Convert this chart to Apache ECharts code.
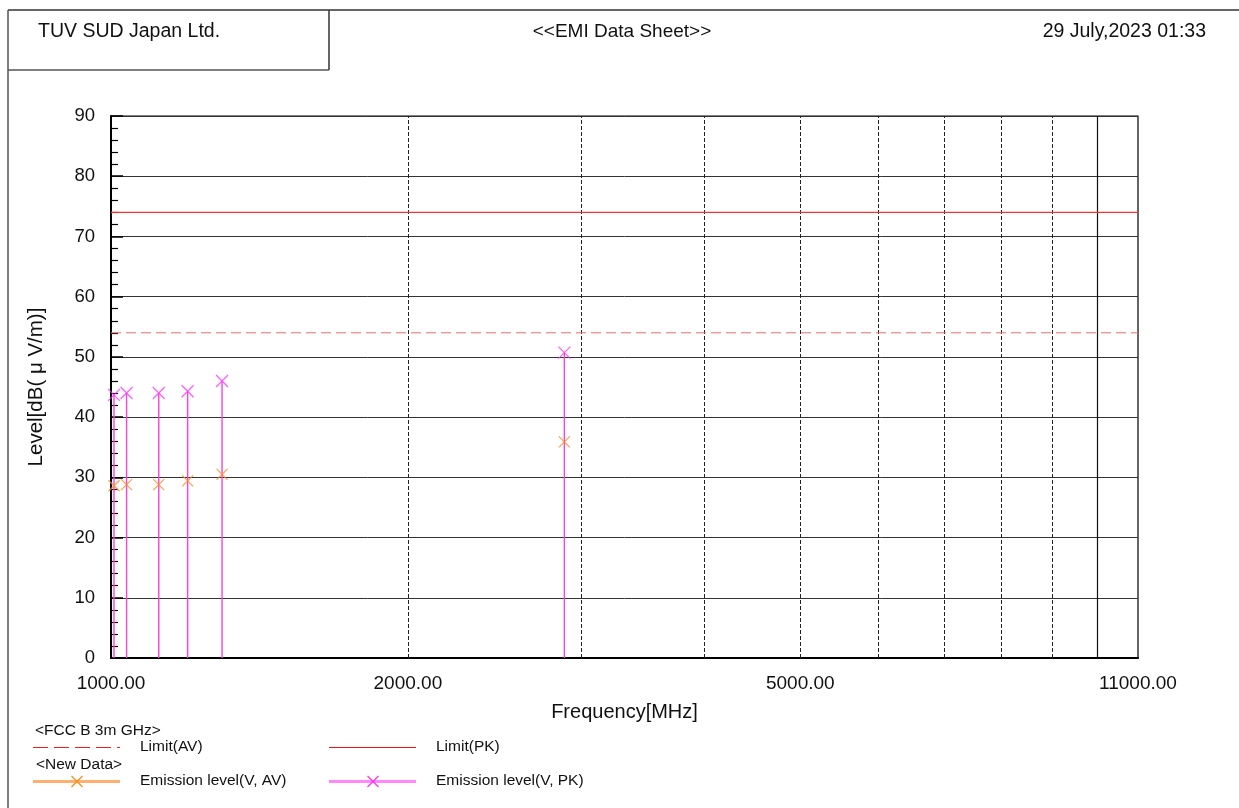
<!DOCTYPE html>
<html>
<head>
<meta charset="utf-8">
<script src="https://cdn.jsdelivr.net/npm/echarts@6/dist/echarts.min.js"></script>
<style>
html, body { margin: 0; padding: 0; background: #fff; }
#chart { width: 1239px; height: 808px; }
</style>
</head>
<body>
<div id="chart"></div>
<script>
// Frequency axis (log scale) labels and grid positions, MHz
const freqAxisLabels = [1000, 2000, 5000, 11000];
const freqGridDashed = [2000, 3000, 4000, 5000, 6000, 7000, 8000, 9000];
const freqGridSolid = [10000];

// FCC B 3m GHz limits, dB(uV/m)
const limitFreqs = [1000, 11000];
const limitPK = [74, 74];
const limitAV = [54, 54];

// Measured emissions (vertical polarisation)
const emissionFreqs = [1007, 1037, 1118, 1196, 1296, 2882];
const emissionPK = [43.7, 44.0, 44.0, 44.3, 46.0, 50.7];
const emissionAV = [28.6, 28.8, 28.8, 29.4, 30.5, 35.9];

const FONT = '"Liberation Sans", Arial, sans-serif';
const PINK = '#ff33ff';
const PINK_STEM = '#ff40d8';
const ORANGE = '#ff8c1a';
const CROSS = 'path://M0,0L10,10M10,0L0,10';

const chart = echarts.init(document.getElementById('chart'), null, { renderer: 'canvas' });

function pairs(xs, ys) { return xs.map((x, i) => [x, ys[i]]); }

const gridMarks = freqGridDashed.map(f => ({ xAxis: f, lineStyle: { type: [4, 2], color: '#222', width: 1 } }))
  .concat(freqGridSolid.map(f => ({ xAxis: f, lineStyle: { type: 'solid', color: '#111', width: 1.2 } })));

function crossGraphic(cx, cy, color) {
  return {
    type: 'group', x: cx, y: cy, children: [
      { type: 'line', shape: { x1: -5.5, y1: -5.5, x2: 5.5, y2: 5.5 }, style: { stroke: color, lineWidth: 1.2 } },
      { type: 'line', shape: { x1: 5.5, y1: -5.5, x2: -5.5, y2: 5.5 }, style: { stroke: color, lineWidth: 1.2 } }
    ]
  };
}
function txt(x, y, text, size, align) {
  return { type: 'text', x: x, y: y, style: { text: text, font: size + 'px ' + FONT, fill: '#111', align: align || 'left', verticalAlign: 'middle' } };
}
function hline(x1, x2, y, color, width, dash) {
  return { type: 'line', shape: { x1: x1, y1: y, x2: x2, y2: y }, style: { stroke: color, lineWidth: width, lineDash: dash || null } };
}

const option = {
  backgroundColor: '#fff',
  animation: false,
  textStyle: { fontFamily: FONT },
  grid: { left: 111, right: 101, top: 116, bottom: 150, show: true, borderColor: '#000', borderWidth: 1.2 },
  xAxis: {
    type: 'log', logBase: 10, min: 1000, max: 11000,
    name: 'Frequency[MHz]', nameLocation: 'middle', nameGap: 44,
    nameTextStyle: { fontSize: 20, color: '#111', fontFamily: FONT },
    axisLine: { show: true, lineStyle: { color: '#000', width: 2 } },
    axisTick: { show: false },
    minorTick: { show: false },
    splitLine: { show: false },
    axisLabel: {
      customValues: freqAxisLabels, margin: 16, fontSize: 19, color: '#111', fontFamily: FONT,
      formatter: v => Number(v).toFixed(2)
    }
  },
  yAxis: {
    type: 'value', min: 0, max: 90, interval: 10,
    name: 'Level[dB( μ V/m)]', nameLocation: 'middle', nameGap: 64, nameRotate: 90,
    nameTextStyle: { fontSize: 20.5, color: '#111', fontFamily: FONT },
    axisLine: { show: true, lineStyle: { color: '#000', width: 2 } },
    axisTick: { show: true, inside: true, length: 12, lineStyle: { color: '#000', width: 1.5 } },
    minorTick: { show: true, splitNumber: 5, length: 7, lineStyle: { color: '#000', width: 1.2 } },
    splitLine: { show: true, lineStyle: { color: '#333', width: 1 } },
    axisLabel: { margin: 16, fontSize: 18.5, color: '#111', fontFamily: FONT }
  },
  series: [
    {
      name: 'Limit(PK)', type: 'line', data: pairs(limitFreqs, limitPK), symbol: 'none', z: 4,
      lineStyle: { color: '#ff3030', width: 1.2 },
      markLine: { silent: true, symbol: 'none', label: { show: false }, data: gridMarks, z: 1 }
    },
    {
      name: 'Limit(AV)', type: 'line', data: pairs(limitFreqs, limitAV), symbol: 'none', z: 4,
      lineStyle: { color: '#e87070', width: 1, type: [10, 5] }
    },
    {
      name: 'Emission stems', type: 'custom', z: 5,
      data: pairs(emissionFreqs, emissionPK),
      renderItem: function (params, api) {
        const top = api.coord([api.value(0), api.value(1)]);
        const base = api.coord([api.value(0), 0]);
        return { type: 'line', shape: { x1: top[0], y1: top[1], x2: base[0], y2: base[1] }, style: { stroke: PINK_STEM, lineWidth: 1.4 } };
      }
    },
    {
      name: 'Emission level(V, AV)', type: 'scatter', z: 6,
      data: pairs(emissionFreqs, emissionAV),
      symbol: CROSS, symbolSize: 11,
      itemStyle: { color: 'transparent', borderColor: ORANGE, borderWidth: 1.2 }
    },
    {
      name: 'Emission level(V, PK)', type: 'scatter', z: 6,
      data: pairs(emissionFreqs, emissionPK),
      symbol: CROSS, symbolSize: 12,
      itemStyle: { color: 'transparent', borderColor: PINK, borderWidth: 1.2 }
    }
  ],
  graphic: [
    // page frame and header box
    hline(8, 1239, 10, '#333', 1.5),
    { type: 'line', shape: { x1: 8, y1: 10, x2: 8, y2: 808 }, style: { stroke: '#555', lineWidth: 1.5 } },
    { type: 'line', shape: { x1: 329, y1: 10, x2: 329, y2: 70 }, style: { stroke: '#333', lineWidth: 1.5 } },
    hline(8, 329, 70, '#555', 1.5),
    txt(38, 32, 'TUV SUD Japan Ltd.', 19.5),
    txt(622, 32, '<<EMI Data Sheet>>', 19, 'center'),
    txt(1206, 32, '29 July,2023 01:33', 19.5, 'right'),
    // legend
    txt(35, 731, '<FCC B 3m GHz>', 15.5),
    hline(33, 120, 747.5, '#ff1a1a', 1, [15, 6]),
    txt(140, 747, 'Limit(AV)', 15.5),
    hline(329, 416, 747.5, '#ff1010', 1),
    txt(436, 747, 'Limit(PK)', 15.5),
    txt(36, 765, '<New Data>', 15.5),
    hline(33, 120, 781.5, '#ffb070', 3),
    crossGraphic(77, 781.5, ORANGE),
    txt(140, 781, 'Emission level(V, AV)', 15.5),
    hline(329, 416, 781.5, '#ff88ff', 3),
    crossGraphic(373, 781.5, PINK),
    txt(436, 781, 'Emission level(V, PK)', 15.5)
  ]
};

chart.setOption(option);
</script>
</body>
</html>
